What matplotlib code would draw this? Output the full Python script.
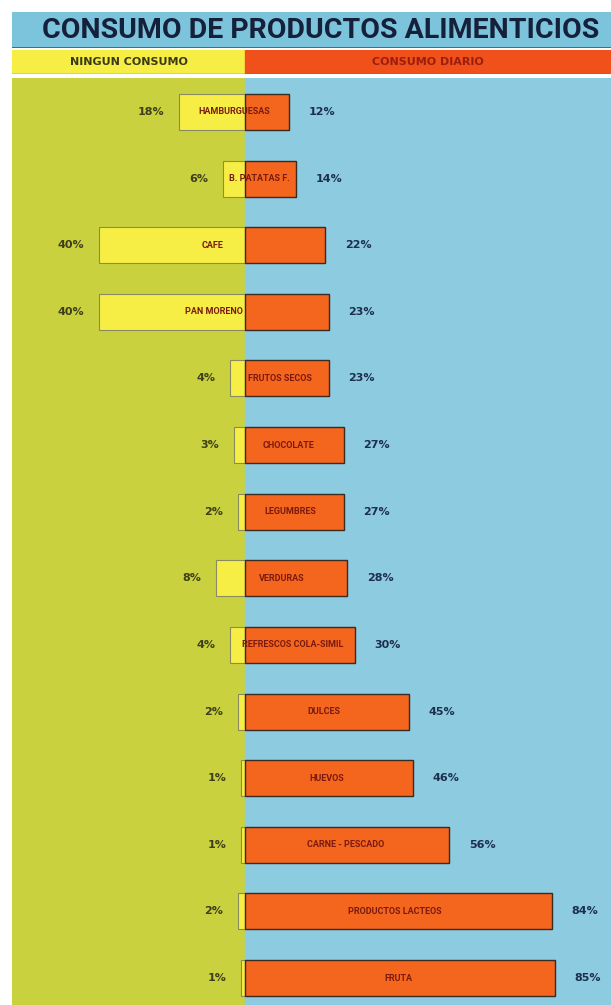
import matplotlib
matplotlib.use("Agg")
import matplotlib.pyplot as plt
from matplotlib import font_manager

# datos
productos = ['HAMBURGUESAS', 'B. PATATAS F.', 'CAFE', 'PAN MORENO', 'FRUTOS SECOS',
             'CHOCOLATE', 'LEGUMBRES', 'VERDURAS', 'REFRESCOS COLA-SIMIL', 'DULCES',
             'HUEVOS', 'CARNE - PESCADO', 'PRODUCTOS LACTEOS', 'FRUTA']
ningun = [18, 6, 40, 40, 4, 3, 2, 8, 4, 2, 1, 1, 2, 1]
diario = [12, 14, 22, 23, 23, 27, 27, 28, 30, 45, 46, 56, 84, 85]

titulo = 'CONSUMO DE PRODUCTOS ALIMENTICIOS'
leyenda = ['NINGUN CONSUMO', 'CONSUMO DIARIO']

# colores
c_fondo_izq = '#c9d23e'
c_fondo_der = '#8ccbe0'
c_amarillo = '#f7ee45'
c_naranja = '#f4651e'
c_naranja_ley = '#f0501a'
c_azul_tit = '#7cc3dc'

nombres = {f.name for f in font_manager.fontManager.ttflist}
fam = ['Liberation Sans Narrow'] if 'Liberation Sans Narrow' in nombres else ['Roboto', 'DejaVu Sans']

W, H = 611, 1005
fig = plt.figure(figsize=(W / 100, H / 100), dpi=100)

px = 3.65  # pixeles por punto porcentual
x_centro = 245
xmin = (12 - x_centro) / px
xmax = (W - x_centro) / px

def caja(y0, y1):
    return [12 / W, 1 - y1 / H, 1 - 12 / W, (y1 - y0) / H]

# franja del titulo
ax_t = fig.add_axes(caja(12, 48))
ax_t.set_xlim(xmin, xmax)
ax_t.set_ylim(0, 1)
ax_t.axvspan(xmin, xmax, color=c_azul_tit)
ax_t.text(0.515, 0.48, titulo, transform=ax_t.transAxes, ha='center', va='center',
          fontsize=20.5, fontweight='bold', color='#15203a', family=fam)
ax_t.axhline(0, color='#555555', lw=1.2)
ax_t.axis('off')

# franja de la leyenda
ax_l = fig.add_axes(caja(50, 74))
ax_l.set_xlim(xmin, xmax)
ax_l.set_ylim(0, 1)
ax_l.axvspan(xmin, 0, color=c_amarillo)
ax_l.axvspan(0, xmax, color=c_naranja_ley)
ax_l.text(xmin / 2, 0.5, leyenda[0], ha='center', va='center', fontsize=8,
          fontweight='bold', color='#3a3a1a')
ax_l.text(xmax / 2, 0.5, leyenda[1], ha='center', va='center', fontsize=8,
          fontweight='bold', color='#9a1e10')
ax_l.axhline(0, color='#666666', lw=1)
ax_l.axis('off')

# grafico principal
ax = fig.add_axes(caja(78, 1005))
n = len(productos)
paso = 866 / (n - 1)
ax.set_xlim(xmin, xmax)
ax.set_ylim(n - 1 + 27 / paso, -34 / paso)
ax.axvspan(xmin, 0, color=c_fondo_izq, zorder=0)
ax.axvspan(0, xmax, color=c_fondo_der, zorder=0)

y = list(range(n))
alto = 36 / paso
ax.barh(y, [-v for v in ningun], height=alto, color=c_amarillo,
        edgecolor='#8a8a60', lw=0.8, zorder=2)
ax.barh(y, diario, height=alto, color=c_naranja, edgecolor='#3a2a20', lw=1, zorder=2)

sep = 15 / px
for i in y:
    ax.text(-ningun[i] - sep, i, f'{ningun[i]}%', ha='right', va='center',
            fontsize=8, fontweight='bold', color='#3e3e1c', zorder=3)
    ax.text(diario[i] + sep * 1.3, i, f'{diario[i]}%', ha='left', va='center',
            fontsize=8, fontweight='bold', color='#1e2e4e', zorder=3)
    ax.text((diario[i] - ningun[i]) / 2, i, productos[i], ha='center', va='center',
            fontsize=6.5, fontweight='bold', color='#7a1a10', family=fam, zorder=3)

ax.axis('off')

fig.savefig('out.png', dpi=100, facecolor='white')
